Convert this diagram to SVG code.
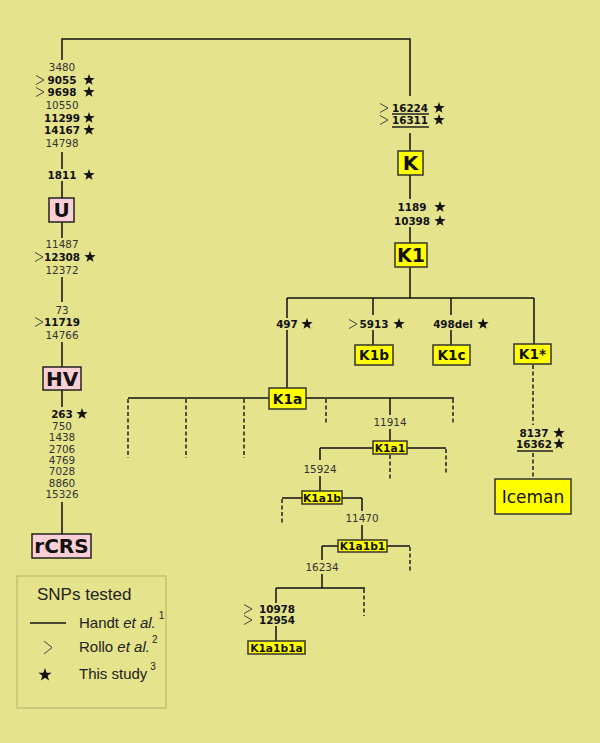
<svg xmlns="http://www.w3.org/2000/svg" xmlns:xlink="http://www.w3.org/1999/xlink" width="600" height="743" viewBox="0 0 600 743">
<style>
.ln{stroke:#111;stroke-width:1.5;fill:none}
.ds{stroke:#222;stroke-width:1.5;fill:none;stroke-dasharray:4,2.5}
.ul{stroke:#222;stroke-width:1.3}
.n{font-family:"DejaVu Sans",sans-serif;font-size:10.4px;fill:#333;text-anchor:middle}
.b{font-family:"DejaVu Sans",sans-serif;font-size:10.4px;font-weight:bold;fill:#111;text-anchor:middle}
.pink{fill:#fccfd6;stroke:#222;stroke-width:1.5}
.yel{fill:#ffff00;stroke:#333;stroke-width:1.5}
.bt{font-family:"DejaVu Sans",sans-serif;font-weight:bold;fill:#111;text-anchor:middle}
.ch{stroke:#333;stroke-width:0.9;fill:none}
.lg{font-family:"Liberation Sans",Arial,sans-serif;fill:#222}
</style>
<defs>
<polygon id="st" points="0,-6 1.41,-1.94 5.71,-1.85 2.28,0.74 3.53,4.85 0,2.4 -3.53,4.85 -2.28,0.74 -5.71,-1.85 -1.41,-1.94" fill="#111"/>
<polyline id="cv" points="-4,-4.5 4,0 -4,4.5" class="ch"/>
</defs>
<rect width="600" height="743" fill="#e5e38b"/>

<g id="connectors">
<path class="ln" d="M62,60 V39 H410 V96"/>
<path class="ln" d="M62,152 V169 M62,181 V198 M62,222 V238 M62,277 V302 M62,342 V367 M62,390 V407 M62,502 V534"/>
<path class="ln" d="M410,133 V151 M410,175 V199 M410,227 V243 M410,267 V298 M287,298 H534"/>
<path class="ln" d="M287,298 V318 M287,330 V388 M373,298 V315 M373,330 V345 M451,298 V315 M451,330 V345 M534,298 V344"/>
<path class="ds" d="M533,365 V425 M533,453 V479"/>
<path class="ln" d="M128,398 H454"/>
<path class="ds" d="M128,399 V458 M186,399 V458 M244,399 V458 M326,399 V425 M453,399 V425"/>
<path class="ln" d="M390,398 V415 M390,429 V441 M320,448 H446 M320,448 V460 M320,476 V491"/>
<path class="ds" d="M446,449 V475 M390,455 V481"/>
<path class="ln" d="M282,498 H362 M362,498 V511 M362,525 V540"/>
<path class="ds" d="M282,499 V525"/>
<path class="ln" d="M322,546 H410 M322,546 V560 M322,574 V588 M276,588 H365 M276,588 V603 M276,626 V641"/>
<path class="ds" d="M410,547 V572 M364,589 V616"/>
</g>

<g id="snps-left">
<text class="n" x="62" y="71">3480</text>
<use xlink:href="#cv" x="40" y="80"/><text class="b" x="62" y="84">9055</text><use xlink:href="#st" x="89" y="80"/>
<use xlink:href="#cv" x="40" y="92"/><text class="b" x="62" y="96">9698</text><use xlink:href="#st" x="89" y="92"/>
<text class="n" x="62" y="109">10550</text>
<text class="b" x="62" y="122">11299</text><use xlink:href="#st" x="89" y="118"/>
<text class="b" x="62" y="134">14167</text><use xlink:href="#st" x="89" y="130"/>
<text class="n" x="62" y="147">14798</text>
<text class="b" x="62" y="179">1811</text><use xlink:href="#st" x="89" y="175"/>
<text class="n" x="62" y="248">11487</text>
<use xlink:href="#cv" x="39" y="257"/><text class="b" x="62" y="261">12308</text><use xlink:href="#st" x="90" y="257"/>
<text class="n" x="62" y="274">12372</text>
<text class="n" x="62" y="314">73</text>
<use xlink:href="#cv" x="39" y="322"/><text class="b" x="62" y="326">11719</text>
<text class="n" x="62" y="339">14766</text>
<text class="b" x="62" y="418">263</text><use xlink:href="#st" x="82" y="414"/>
<text class="n" x="62" y="430">750</text>
<text class="n" x="62" y="441">1438</text>
<text class="n" x="62" y="453">2706</text>
<text class="n" x="62" y="464">4769</text>
<text class="n" x="62" y="475">7028</text>
<text class="n" x="62" y="487">8860</text>
<text class="n" x="62" y="498">15326</text>
</g>

<g id="node-U"><rect class="pink" x="49" y="198" width="25" height="24"/><text class="bt" x="61.5" y="217" font-size="20">U</text></g>
<g id="node-HV"><rect class="pink" x="43" y="367" width="38" height="23"/><text class="bt" x="62" y="386" font-size="20">HV</text></g>
<g id="node-rCRS"><rect class="pink" x="32" y="534" width="59" height="24"/><text class="bt" x="61.5" y="553" font-size="20">rCRS</text></g>

<g id="snps-right">
<use xlink:href="#cv" x="384" y="108"/><text class="b" x="410" y="112">16224</text><use xlink:href="#st" x="439" y="108"/>
<line class="ul" x1="392" y1="114" x2="429" y2="114"/>
<use xlink:href="#cv" x="384" y="120"/><text class="b" x="410" y="124">16311</text><use xlink:href="#st" x="439" y="120"/>
<line class="ul" x1="392" y1="127" x2="429" y2="127" stroke-width="1.8"/>
<text class="b" x="412" y="211">1189</text><use xlink:href="#st" x="440" y="207"/>
<text class="b" x="412" y="225">10398</text><use xlink:href="#st" x="440" y="221"/>
<text class="b" x="287" y="328">497</text><use xlink:href="#st" x="307" y="324"/>
<use xlink:href="#cv" x="353" y="324"/><text class="b" x="374" y="328">5913</text><use xlink:href="#st" x="399" y="324"/>
<text class="b" x="453" y="328">498del</text><use xlink:href="#st" x="483" y="324"/>
<text class="b" x="534" y="437">8137</text><use xlink:href="#st" x="559" y="433"/>
<text class="b" x="534" y="448">16362</text><use xlink:href="#st" x="559" y="444"/>
<line class="ul" x1="517" y1="451" x2="553" y2="451"/>
<text class="n" x="390" y="426">11914</text>
<text class="n" x="320" y="473">15924</text>
<text class="n" x="362" y="522">11470</text>
<text class="n" x="322" y="571">16234</text>
<use xlink:href="#cv" x="248" y="609"/><text class="b" x="277" y="613">10978</text>
<use xlink:href="#cv" x="248" y="620"/><text class="b" x="277" y="624">12954</text>
</g>

<g id="node-K"><rect class="yel" x="398" y="151" width="25" height="24"/><text class="bt" x="410.5" y="170" font-size="20">K</text></g>
<g id="node-K1"><rect class="yel" x="395" y="243" width="32" height="24"/><text class="bt" x="411" y="262" font-size="19">K1</text></g>
<g id="node-K1a"><rect class="yel" x="269" y="388" width="37" height="21"/><text class="bt" x="287.5" y="403.5" font-size="13.7">K1a</text></g>
<g id="node-K1b"><rect class="yel" x="355" y="345" width="38" height="20"/><text class="bt" x="374" y="360" font-size="13.7">K1b</text></g>
<g id="node-K1c"><rect class="yel" x="433" y="345" width="37" height="20"/><text class="bt" x="451.5" y="360" font-size="13.7">K1c</text></g>
<g id="node-K1star"><rect class="yel" x="514" y="344" width="37" height="20"/><text class="bt" x="532.5" y="359" font-size="13.7">K1*</text></g>
<g id="node-Iceman"><rect class="yel" x="495" y="479" width="76" height="35"/><text x="533" y="503" font-family="DejaVu Sans,sans-serif" font-size="17" fill="#111" text-anchor="middle">Iceman</text></g>
<g id="node-K1a1"><rect class="yel" x="373" y="441" width="34" height="13"/><text class="bt" x="390" y="451.5" font-size="10.7">K1a1</text></g>
<g id="node-K1a1b"><rect class="yel" x="302" y="491" width="40" height="13"/><text class="bt" x="322" y="501.5" font-size="10.7">K1a1b</text></g>
<g id="node-K1a1b1"><rect class="yel" x="338" y="540" width="49" height="12"/><text class="bt" x="362.5" y="550" font-size="10.7">K1a1b1</text></g>
<g id="node-K1a1b1a"><rect class="yel" x="248" y="641" width="57" height="13"/><text class="bt" x="276.5" y="651.5" font-size="10.7">K1a1b1a</text></g>

<g id="legend">
<rect x="17" y="576" width="149" height="132" fill="none" stroke="#b3b16c" stroke-width="1"/>
<text class="lg" x="37" y="600" font-size="17">SNPs tested</text>
<line x1="30" y1="623" x2="66" y2="623" stroke="#111" stroke-width="1.5"/>
<text class="lg" x="79" y="628" font-size="15">Handt <tspan font-style="italic">et al.</tspan><tspan dx="3" dy="-9" font-size="10">1</tspan></text>
<polyline points="44,641 52,647.5 44,654" class="ch"/>
<text class="lg" x="79" y="652" font-size="15">Rollo <tspan font-style="italic">et al.</tspan><tspan dx="2" dy="-9" font-size="10">2</tspan></text>
<use xlink:href="#st" transform="translate(45,675) scale(1.15)"/>
<text class="lg" x="79" y="679" font-size="15">This study<tspan dx="3" dy="-9" font-size="10">3</tspan></text>
</g>
</svg>
